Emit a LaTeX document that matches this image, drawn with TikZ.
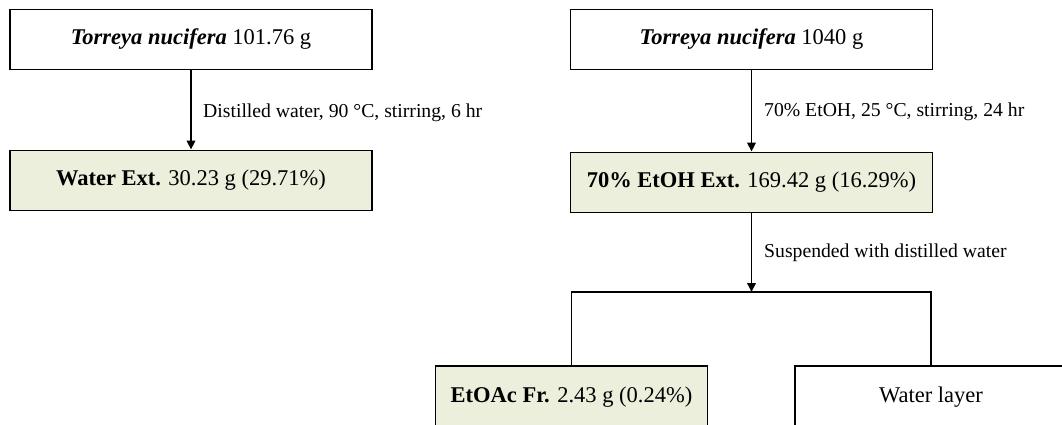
\documentclass[tikz,border=0pt]{standalone}
\usepackage{fontspec}
\setmainfont{Liberation Serif}
\usetikzlibrary{arrows.meta}
\definecolor{extfill}{HTML}{EBEFDC}
\begin{document}
\begin{tikzpicture}[x=1pt,y=-1pt,
  box/.style={draw, line width=1.9pt, minimum width=362pt, minimum height=60pt,
    inner sep=0pt, font=\fontsize{22.5}{27}\selectfont},
  ext/.style={box, fill=extfill},
  smallbox/.style={minimum width=272pt, minimum height=62pt},
  flow/.style={line width=1.9pt, -{Triangle[length=9pt,width=8.5pt]}},
  wire/.style={line width=1.9pt},
  note/.style={anchor=west, inner sep=0pt, font=\fontsize{19.7}{24}\selectfont}]
\clip (0,0) rectangle (1062,425);
\fill[white] (0,0) rectangle (1062,425);

% left column: water extraction
\node[box] (tn1) at (191,39.5) {\textbf{\textit{Torreya nucifera}} 101.76 g};
\node[ext] (wext) at (191,180.5) {\textbf{Water Ext.} 30.23 g (29.71\%)};
\draw[flow] (tn1) -- (wext);
\node[note] (c1) at (203,113) {Distilled water, 90 °C, stirring, 6 hr};

% right column: ethanol extraction and partition
\node[box] (tn2) at (751.5,39.5) {\textbf{\textit{Torreya nucifera}} 1040 g};
\node[ext] (eext) at (751.5,182.5) {\textbf{70\% EtOH Ext.} 169.42 g (16.29\%)};
\draw[flow] (tn2) -- (eext);
\node[note] (c2) at (764,112) {70\% EtOH, 25 °C, stirring, 24 hr};

\coordinate (split) at (751.5,292);
\draw[flow] (eext) -- (split);
\node[note] (c3) at (764,253) {Suspended with distilled water};

\node[ext, smallbox] (etoac) at (571.5,397) {\textbf{EtOAc Fr.} 2.43 g (0.24\%)};
\node[box, smallbox] (wlayer) at (931,397) {Water layer};
\draw[wire] (etoac.north) -- (etoac.north |- split) -- (wlayer.north |- split) -- (wlayer.north);
\end{tikzpicture}
\end{document}
